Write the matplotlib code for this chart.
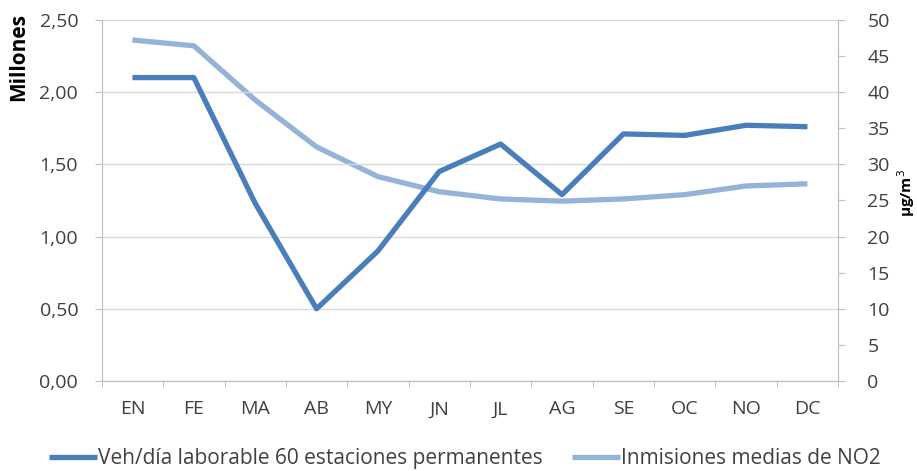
import numpy as np
import matplotlib.pyplot as plt
from matplotlib.ticker import MultipleLocator, FuncFormatter

meses = ['EN', 'FE', 'MA', 'AB', 'MY', 'JN', 'JL', 'AG', 'SE', 'OC', 'NO', 'DC']
veh_millones = [2.10, 2.10, 1.23, 0.50, 0.90, 1.45, 1.64, 1.29, 1.71, 1.70, 1.77, 1.76]
no2_ugm3 = [47.2, 46.4, 38.9, 32.4, 28.3, 26.2, 25.2, 24.9, 25.2, 25.8, 27.0, 27.3]

plt.rcParams['font.family'] = ['Open Sans', 'DejaVu Sans']
gris = '#bfbfbf'
txt = '#404040'

fig = plt.figure(figsize=(9.17, 4.71), dpi=100)
ax = fig.add_axes([0.111, 0.191, 0.803, 0.767])
ax2 = ax.twinx()

x = np.arange(len(meses))
l1, = ax.plot(x, veh_millones, color='#4a7ebb', lw=3.8, solid_capstyle='butt',
              label='Veh/día laborable 60 estaciones permanentes')
l2, = ax2.plot(x, no2_ugm3, color='#95b3d7', lw=3.8, solid_capstyle='butt',
               label='Inmisiones medias de NO2')
ax.set_zorder(ax2.get_zorder() + 1)
ax.patch.set_visible(False)

ax.set_xlim(-0.5, 11.5)
ax.set_ylim(0, 2.5)
ax2.set_ylim(0, 50)
ax.yaxis.set_major_locator(MultipleLocator(0.5))
ax.yaxis.set_major_formatter(FuncFormatter(lambda v, p: f'{v:.2f}'.replace('.', ',')))
ax2.yaxis.set_major_locator(MultipleLocator(5))
ax.grid(axis='y', color='#d9d9d9', lw=1)

ax.set_xticks(x)
ax.set_xticklabels(meses)
ax.set_xticks(np.arange(-0.5, 12, 1), minor=True)
ax.tick_params(axis='x', which='major', length=0, pad=14, labelsize=14, labelcolor=txt)
ax.tick_params(axis='x', which='minor', length=5, color=gris)
ax.tick_params(axis='y', length=5, color=gris, labelsize=14, labelcolor=txt, pad=12)
ax2.tick_params(axis='y', length=5, color=gris, labelsize=14, labelcolor=txt, pad=16)

for a in (ax, ax2):
    for s in a.spines.values():
        s.set_color(gris)
    a.spines['top'].set_visible(False)

ax.set_ylabel('Millones', fontsize=15, fontweight='bold', color='black', loc='top')
ax.yaxis.set_label_coords(-0.098, 1.02)
ax2.set_ylabel('µg/m$^{3}$', fontsize=11, fontweight='bold', color='black')
ax2.yaxis.set_label_coords(1.078, 0.52)

fig.legend(handles=[l1, l2], loc='center', bbox_to_anchor=(0.507, 0.026), ncol=2,
           frameon=False, fontsize=15, handlelength=2.3, handletextpad=0.05,
           columnspacing=1.4, labelcolor=txt, borderpad=0, borderaxespad=0)

fig.savefig('out.png', dpi=100)
